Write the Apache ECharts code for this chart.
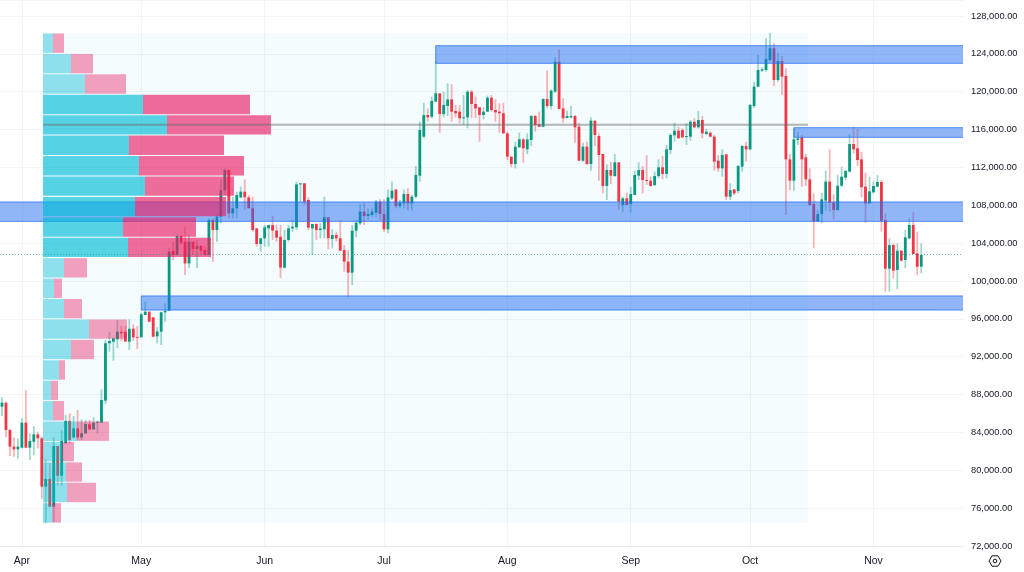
<!DOCTYPE html>
<html>
<head>
<meta charset="utf-8">
<style>
  html, body { margin: 0; padding: 0; background: #fff; }
  #chart { width: 1024px; height: 572px; }
</style>
<script src="https://cdn.jsdelivr.net/npm/echarts@6/dist/echarts.min.js"></script>
</head>
<body>
<div id="chart"></div>
<script>
'use strict';

// one row per month, 27 Mar .. 13 Nov
const opens = [
  86720,87140,84260,82500,82220,
  82390,85030,82390,83020,83800,83380,78270,79080,76160,82570,79430,82850,85210,83480,84430,83480,83900,84860,84330,85030,85030,87360,93420,93590,93840,94640,94640,93590,94960,94100,
  94050,96410,96760,96160,94150,94640,96690,96860,103170,102740,104750,104150,101860,104150,103380,103700,103270,102740,106440,105390,106800,109600,111730,107150,107680,108840,109440,108840,107680,105560,103910,
  104510,105560,105920,105320,104680,101410,104330,105560,105670,110210,110320,108560,105560,106020,105390,105460,106730,104440,104860,104510,103270,102040,100880,105320,106090,107330,106870,106970,107220,108380,
  107080,105460,108730,109680,107920,108200,109190,108200,108910,111130,115250,117540,117360,118950,119830,117640,118490,119190,117960,117890,117190,117290,120000,118700,118350,117540,117890,119370,118070,117890,117720,
  115600,113140,112360,114120,114970,113910,114900,117430,116550,116300,119230,118490,120000,123170,118240,117220,117290,117430,116310,112710,114190,112360,116940,115320,113420,110040,111730,111090,112540,108030,108730,
  108130,109090,111130,111730,110670,110600,110140,111090,112010,111310,113840,115390,115880,115950,115250,115250,116830,116240,117010,115530,115670,115250,112710,111900,113380,108910,109680,109510,112080,114260,
  113910,118490,120530,122220,122290,123350,124580,121240,123240,121660,112850,110600,114900,115180,113070,110740,108140,106300,107080,108490,110500,108310,107500,110070,110920,111550,114470,114020,112850,109970,108200,
  109370,109970,110460,106440,101300,103800,101160,103200,102220,104510,105920,102920,101510
];
const highs = [
  87710,87240,84360,83480,83380,
  85490,88480,83900,84680,84080,83550,81160,80800,83480,82570,84250,85840,86020,85740,86370,85380,85310,85310,85590,85240,88550,93770,94640,94010,95880,95240,95240,95950,95420,95250,
  96650,97820,96760,96160,95100,96760,97640,103500,104150,104860,104860,105670,104860,104150,104330,103800,103630,106620,106620,106970,110740,111900,111800,108900,109440,109970,110740,109090,108910,105560,104510,
  105920,105920,106870,105920,105920,105390,105920,106440,110500,110320,110320,108840,106020,106090,106090,108910,106730,105460,105210,106440,103800,103270,105920,106440,108130,108280,107680,107680,108560,108630,
  108630,109680,110500,109680,108550,109680,109790,109090,112150,116830,118840,118240,119480,123200,119830,120000,120880,120810,118600,118600,119650,120180,120180,119480,118350,118350,119580,119650,119190,118770,118840,
  115780,113140,114720,115670,115070,115600,117540,117540,117890,119300,122220,120250,123630,124480,119300,118000,118490,117540,116660,114620,114720,117290,116940,115600,113420,112330,112610,113420,112540,108910,109330,
  109960,111660,112540,112150,113310,111020,111550,112850,113210,114370,115600,116730,116310,116130,116660,117010,117190,117960,117430,116060,115780,115430,113310,113910,113420,110320,109680,112260,114370,114720,
  118700,121060,123880,122580,125640,126240,125110,124120,123770,122470,113420,116130,115780,115430,113420,111900,109260,107500,109330,111660,113910,109160,111200,112080,111730,115530,116310,116060,113660,111450,111020,
  110500,111200,110670,107150,104510,103980,103980,103270,105390,106620,107320,105210,103980
];
const lows = [
  85730,83480,81510,81440,81190,
  82320,82320,81090,81610,82320,76960,74400,76160,74570,78380,78380,82850,82850,83370,83200,83200,83830,84180,84260,83900,85030,87000,92530,91580,92890,93660,93590,92710,93700,92800,
  94050,96410,95700,94050,93410,93240,95700,96860,102220,102740,103800,100640,101340,102750,101340,102750,102750,102740,102040,104150,106090,109090,106620,106620,106620,108720,107500,107680,105210,103630,103100,
  103630,103630,104330,104160,100280,101340,104160,105210,105390,108310,108030,105390,102750,104330,104510,104510,103350,103450,104160,103200,100990,98270,99580,104610,105920,105920,106440,106800,106730,106440,
  105210,105040,108560,107680,107680,107680,107500,107430,108730,110500,115070,116830,117190,118950,115670,117290,117430,116830,117290,116660,116480,116130,117190,117190,114720,117080,117890,117890,116830,115670,115530,
  112780,112010,111900,114120,112500,113420,114260,115780,116300,116240,118240,118140,119900,118170,116730,117190,117190,114620,112710,112610,112260,111660,114260,110600,109260,108560,110250,111020,107500,107320,108030,
  107220,109090,110670,109260,110140,109970,110040,110850,110740,110850,113420,114720,115070,115070,114370,114830,116130,116100,115070,115430,115180,111660,111550,111020,108560,108560,109090,109260,111550,112610,
  113840,118310,120530,122120,122120,123170,120600,121060,119650,106970,109610,109540,114370,109970,110040,107920,103450,106270,106090,107430,107320,106520,107430,109970,110670,111480,113490,112150,108840,106160,108130,
  109260,109900,105210,98870,98870,100280,99120,102040,101340,104400,102850,100630,100810
];
const closes = [
  87140,84260,82500,82220,82500,
  85030,82390,83100,83800,83380,78270,79080,76160,82570,79430,83100,85210,83200,84430,83480,83900,84890,84330,85030,85130,87430,93420,93660,93940,94640,94470,93600,94960,94050,94050,
  96480,96760,95700,94120,94660,96690,96860,103100,102740,104750,104050,101860,104150,103380,103700,103200,102740,106440,105390,106800,109600,111730,107150,107680,109080,109440,108840,107680,105390,103910,104510,
  105670,105920,105320,104580,101410,104330,105560,105740,110210,110320,108380,105640,106020,105390,105560,106730,104510,104860,104510,103200,102040,100880,105320,106160,107330,106870,107080,107330,108380,107080,
  105460,108840,109540,107920,108270,109190,108200,108910,111200,115950,117540,117290,119020,119830,117640,118600,119190,117890,117720,117190,117290,120000,118700,118240,117540,117890,119370,118070,117820,117720,115600,
  113140,112360,114190,114970,114020,114970,117430,116480,116300,119230,118490,120110,123170,118170,117190,117430,117430,116240,112710,114190,112360,116940,115430,113310,110040,111730,111130,112540,108380,108730,108030,
  109190,111200,111730,110670,110570,110040,111090,112010,111310,113910,115430,115880,115070,115180,115320,116830,116240,117010,115600,115780,115250,112610,111900,113310,108910,109610,109260,112150,114260,113910,
  118600,120530,122290,122360,123460,124580,121240,123240,121590,112850,110600,114970,115070,112850,110740,108030,106300,107080,108630,110500,108280,107500,110070,111020,111620,114470,113910,112780,109900,108200,109470,
  110040,110460,106370,101300,103800,101090,103200,102150,104610,105920,102850,101510,102750
];

// volume profile, top row first. 25 price edges for 24 rows
const profileEdges = [126200,124050,121890,119730,117570,115420,113260,111100,108940,106790,104630,102470,100310,98150,96000,93840,91680,89520,87370,85210,83050,80890,78740,76580,74420];
const profileUp = [10,28,42,100,124,86,96,102,92,80,85,21,11,21,46,28,16,8,10,34,19,23,24,9];
const profileDown = [11,22,41,107,104,95,105,89,91,73,83,23,8,18,38,23,6,7,11,32,12,16,29,9];
// rows inside the value area are drawn stronger
const valueAreaRows = [3,4,5,6,7,8,9,10];

// blue supply/demand zones
const zoneStart = ['2025-07-14','2025-10-12','2025-03-27','2025-05-01'];
const zoneHigh = [124860,116200,108350,98420];
const zoneLow = [123000,115180,106300,96930];

const pocPrice = 116510;
const lastPrice = 102800;

const monthStarts = ['04-01','05-01','06-01','07-01','08-01','09-01','10-01','11-01'];
const monthLabels = ['Apr','May','Jun','Jul','Aug','Sep','Oct','Nov'];

// x axis runs on past the last candle, those days just stay empty
const dates = [];
for (let i = 0; i < 242; i++) {
  dates.push(new Date(Date.UTC(2025, 2, 27 + i)).toISOString().slice(0, 10));
}

const UP = '#089981';
const DOWN = '#F23645';
const GRID = '#f3f4f8';
const FONT = '"Liberation Sans", Arial, sans-serif';

function rectBetween(api, a, b, style) {
  const p1 = api.coord(a);
  const p2 = api.coord(b);
  return {
    type: 'rect',
    shape: { x: p1[0], y: p1[1], width: p2[0] - p1[0], height: p2[1] - p1[1] },
    style: style
  };
}

function renderCandle(params, api) {
  const x = api.coord([api.value(0), 0])[0];
  const o = api.value(1);
  const h = api.value(2);
  const l = api.value(3);
  const c = api.value(4);
  const top = api.coord([api.value(0), Math.max(o, c)])[1];
  const bottom = api.coord([api.value(0), Math.min(o, c)])[1];
  const yh = api.coord([api.value(0), h])[1];
  const yl = api.coord([api.value(0), l])[1];
  const color = c >= o ? UP : DOWN;
  return {
    type: 'group',
    children: [
      { type: 'rect', shape: { x: x - 0.9, y: yh, width: 1.8, height: yl - yh }, style: { fill: color, opacity: 0.38 } },
      { type: 'rect', shape: { x: x - 1.4, y: top, width: 2.8, height: Math.max(bottom - top, 1) }, style: { fill: color } }
    ]
  };
}

function renderProfileRow(params, api) {
  const hi = api.value(0);
  const lo = api.value(1);
  const up = api.value(2);
  const down = api.value(3);
  const strong = valueAreaRows.indexOf(params.dataIndex) >= 0;
  const a = strong ? 0.65 : 0.42;
  // one pixel of price left out between rows
  const gap = 55;
  return {
    type: 'group',
    children: [
      rectBetween(api, [0, hi - gap], [up, lo + gap], { fill: 'rgba(0,188,212,' + a + ')' }),
      rectBetween(api, [up, hi - gap], [up + down, lo + gap], { fill: 'rgba(233,30,99,' + a + ')' })
    ]
  };
}

function renderZone(params, api) {
  const cs = params.coordSys;
  const top = api.coord([api.value(0), api.value(1)]);
  const bottom = api.coord([api.value(0), api.value(2)]);
  const x0 = api.value(0) === 0 ? cs.x - 2 : top[0];
  return {
    type: 'rect',
    shape: { x: x0, y: top[1], width: cs.x + cs.width + 2 - x0, height: bottom[1] - top[1] },
    style: { fill: 'rgba(33,110,240,0.5)', stroke: 'rgba(33,110,240,0.75)', lineWidth: 1 }
  };
}

const candleData = opens.map(function (o, i) {
  return [dates[i], o, highs[i], lows[i], closes[i]];
});
const profileData = profileUp.map(function (u, i) {
  return [profileEdges[i], profileEdges[i + 1], u, profileDown[i]];
});
const zoneData = zoneStart.map(function (d, i) {
  return [d, zoneHigh[i], zoneLow[i]];
});

const chart = echarts.init(document.getElementById('chart'), null, { width: 1024, height: 572 });

chart.setOption({
  animation: false,
  backgroundColor: '#ffffff',
  grid: { left: 0, top: 0, width: 963, height: 546 },
  xAxis: [
    {
      type: 'category',
      data: dates,
      boundaryGap: true,
      axisLine: { lineStyle: { color: '#e4e7ee' } },
      axisTick: { show: false },
      splitLine: {
        show: true,
        alignWithLabel: true,
        lineStyle: { color: GRID },
        interval: function (i, v) { return monthStarts.indexOf(v.slice(5)) >= 0; }
      },
      axisLabel: {
        interval: function (i, v) { return monthStarts.indexOf(v.slice(5)) >= 0; },
        formatter: function (v) { return monthLabels[monthStarts.indexOf(v.slice(5))]; },
        color: '#131722',
        fontFamily: FONT,
        fontSize: 10.5,
        margin: 10
      }
    },
    // hidden axis for the profile volume, bars grow from 0
    { type: 'value', show: false, min: -43, max: 920 }
  ],
  yAxis: {
    type: 'value',
    position: 'right',
    min: 72000,
    max: 129690,
    interval: 4000,
    axisLine: { show: false },
    axisTick: { show: false },
    splitLine: { lineStyle: { color: GRID } },
    axisLabel: {
      showMaxLabel: false,
      margin: 8,
      color: '#131722',
      fontFamily: FONT,
      fontSize: 9.3,
      formatter: function (v) {
        return v.toLocaleString('en-US', { minimumFractionDigits: 2, maximumFractionDigits: 2 });
      }
    }
  },
  series: [
    {
      // pale range of the profile
      type: 'custom',
      xAxisIndex: 1,
      silent: true,
      z: 1,
      data: [[0, profileEdges[0], 765, profileEdges[profileEdges.length - 1]]],
      renderItem: function (params, api) {
        return rectBetween(api, [api.value(0), api.value(1)], [api.value(2), api.value(3)], { fill: 'rgba(33,190,240,0.05)' });
      }
    },
    {
      type: 'custom',
      silent: true,
      z: 2,
      encode: { x: 0, y: [1, 2, 3, 4] },
      data: candleData,
      renderItem: renderCandle
    },
    {
      // zones go over the candles but under the profile
      type: 'custom',
      silent: true,
      clip: true,
      z: 3,
      encode: { x: 0, y: [1, 2] },
      data: zoneData,
      renderItem: renderZone
    },
    {
      type: 'custom',
      xAxisIndex: 1,
      silent: true,
      z: 4,
      encode: { y: [0, 1], x: [2, 3] },
      data: profileData,
      renderItem: renderProfileRow
    },
    {
      type: 'line',
      xAxisIndex: 1,
      symbol: 'none',
      silent: true,
      z: 5,
      lineStyle: { color: 'rgba(110,110,110,0.5)', width: 2 },
      data: [[0, pocPrice], [765, pocPrice]]
    },
    {
      type: 'line',
      xAxisIndex: 1,
      symbol: 'none',
      silent: true,
      z: 5,
      lineStyle: { color: 'rgba(8,153,129,0.6)', width: 1, type: [1, 2] },
      data: [[-43, lastPrice], [920, lastPrice]]
    }
  ],
  // settings button bottom right
  graphic: [
    {
      type: 'polygon',
      silent: true,
      shape: { points: [[989, 561], [992, 555.8], [998, 555.8], [1001, 561], [998, 566.2], [992, 566.2]] },
      style: { fill: 'none', stroke: '#131722', lineWidth: 1 }
    },
    {
      type: 'circle',
      silent: true,
      shape: { cx: 995, cy: 561, r: 1.8 },
      style: { fill: 'none', stroke: '#131722', lineWidth: 1 }
    }
  ]
});
</script>
</body>
</html>
